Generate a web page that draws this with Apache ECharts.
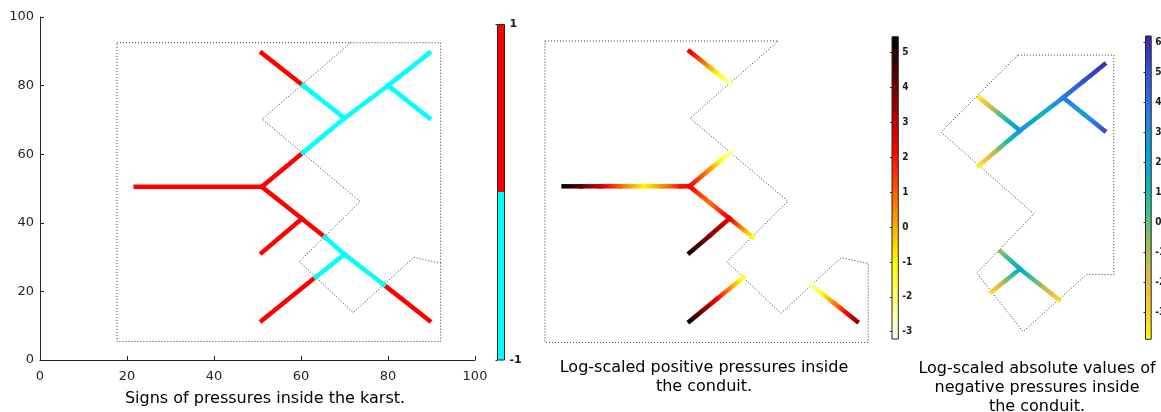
<!DOCTYPE html>
<html><head><meta charset="utf-8">
<script src="https://cdn.jsdelivr.net/npm/echarts@6/dist/echarts.min.js"></script>
<style>html,body{margin:0;padding:0;background:#fff}#c{width:1161px;height:412px}</style>
</head><body><div id="c"></div>
<script>
// ---------------- data ----------------
const axisMin = 0, axisMax = 100, axisStep = 20;
// karst boundary (dotted): left sub-domain, right sub-domain, and the outer north-east edge
const leftBoundary = [[17.7,92.5],[71.4,92.5],[51.1,70.2],[73.6,46.2],[59.6,28.7],[72,13.8],[85.9,29.9],[92.1,28.2],[92.1,5.4],[17.7,5.4],[17.7,92.5]];
const rightBoundary = [[69.5,92.2],[91.7,92.2],[91.7,29.1],[85.5,29.3],[70.7,12.8],[60.0,29.6],[73.2,46.6],[51.7,70.1],[69.5,92.2]];
const outerEdgeNE = [[71.4,92.5],[92.1,92.5],[92.1,28.2]];
// conduit branches with positive pressure: [x, y, log10(p)]
const posBranches = [
  [[22,50.5,5.4],[26,50.5,4.3],[30.5,50.5,2.8],[35,50.5,1.0],[40.5,50.5,-0.9],[44.5,50.5,0.3],[49,50.5,2.0],[51,50.5,2.3]],
  [[51,50.5,2.3],[55.75,55.5,0.3],[60.5,60.5,-2.6]],
  [[51,89.5,2.5],[55.75,84.75,0.0],[60.5,80,-2.8]],
  [[51,50.5,2.3],[55.6,45.8,0.7],[60.2,41.2,2.5]],
  [[60.2,41.2,2.5],[65.5,35.8,-1.2]],
  [[51,31.3,5.2],[55.6,36.2,3.8],[60.2,41.2,2.5]],
  [[51,11.5,5.3],[57.2,17.9,2.3],[63.4,24.2,-1.4]],
  [[79,22,-2.5],[84.25,16.75,0.5],[89.5,11.5,3.8]]
];
// conduit branches with negative pressure: [x, y, log10(|p|)]
const negBranches = [
  [[60.5,80,-3.6],[65.25,75.25,0.0],[70,70.5,3.0]],
  [[60.5,60.5,-3.7],[65.25,65.5,-0.3],[70,70.5,3.0]],
  [[70,70.5,3.0],[75,75.25,1.2],[80,80,3.8]],
  [[80,80,3.8],[84.75,84.75,5.0],[89.5,89.5,5.9]],
  [[80,80,3.8],[84.75,75.25,2.4],[89.5,70.5,5.3]],
  [[65.5,35.8,-0.6],[70,30.8,2.0]],
  [[70,30.8,2.0],[74.5,26.4,-0.5],[79,22,-3.3]],
  [[63.4,24.2,-3.3],[66.7,27.5,-0.6],[70,30.8,1.9]]
];
const signRange = [-1, 1];
const signTicks = [-1, 1];
const posRange = [-3.21, 5.46];
const posTicks = [-3,-2,-1,0,1,2,3,4,5];
const negRange = [-3.89, 6.22];
const negTicks = [-3,-2,-1,0,1,2,3,4,5,6];
const captions = ['Signs of pressures inside the karst.',
  'Log-scaled positive pressures inside\nthe conduit.',
  'Log-scaled absolute values of\nnegative pressures inside\nthe conduit.'];

// ---------------- colormaps ----------------
function hex(r,g,b){return 'rgb('+Math.round(r*255)+','+Math.round(g*255)+','+Math.round(b*255)+')';}
function clamp(t){return Math.max(0,Math.min(1,t));}
function hotAt(f){ // f=0 black ... 1 white
  return hex(clamp(f/0.375), clamp((f-0.375)/0.375), clamp((f-0.75)/0.25));
}
const parulaOff = [0,.12,.22,.32,.42,.52,.62,.71,.81,.91,1];
const parulaCol = ['#3e26a8','#3451d8','#2a72ea','#1b93de','#08aacd','#20b8aa','#62be80','#a6be5b','#e7b942','#fcce2e','#f9fb0e'];
function rgbOf(h){return [parseInt(h.substr(1,2),16),parseInt(h.substr(3,2),16),parseInt(h.substr(5,2),16)];}
function parulaAt(f){
  f = clamp(f);
  for(let i=1;i<parulaOff.length;i++){
    if(f<=parulaOff[i]){
      const t=(f-parulaOff[i-1])/(parulaOff[i]-parulaOff[i-1]);
      const a=rgbOf(parulaCol[i-1]), b=rgbOf(parulaCol[i]);
      return 'rgb('+Math.round(a[0]+(b[0]-a[0])*t)+','+Math.round(a[1]+(b[1]-a[1])*t)+','+Math.round(a[2]+(b[2]-a[2])*t)+')';
    }
  }
  return parulaCol[parulaCol.length-1];
}
const posColor = v => hotAt((posRange[1]-v)/(posRange[1]-posRange[0]));
const negColor = v => parulaAt((negRange[1]-v)/(negRange[1]-negRange[0]));

function toSegments(branches){
  const out=[];
  branches.forEach(b=>{for(let i=0;i<b.length-1;i++){out.push([b[i][0],b[i][1],b[i+1][0],b[i+1][1],b[i][2],b[i+1][2]]);}});
  return out;
}
function toSignItems(branches, s){
  return branches.map(b=>[b[0][0],b[0][1],b[b.length-1][0],b[b.length-1][1],s]);
}

const LW = 4.5;
function gradientSeries(idx, branches, colorFn){
  return {
    type:'custom', xAxisIndex:idx, yAxisIndex:idx, clip:false, silent:true, z:5,
    data: toSegments(branches), encode:{x:[0,2], y:[1,3]},
    renderItem(params, api){
      const p1 = api.coord([api.value(0), api.value(1)]);
      const p2 = api.coord([api.value(2), api.value(3)]);
      const v1 = api.value(4), v2 = api.value(5);
      const stops=[];
      for(let k=0;k<=10;k++){const t=k/10; stops.push({offset:t,color:colorFn(v1+(v2-v1)*t)});}
      return {type:'line', shape:{x1:p1[0],y1:p1[1],x2:p2[0],y2:p2[1]},
        style:{stroke:new echarts.graphic.LinearGradient(p1[0],p1[1],p2[0],p2[1],stops,true), lineWidth:LW, lineCap:'square'}};
    }
  };
}
function signSeries(){
  return {
    type:'custom', xAxisIndex:0, yAxisIndex:0, clip:false, silent:true, z:5,
    data: toSignItems(posBranches,1).concat(toSignItems(negBranches,-1)), encode:{x:[0,2], y:[1,3]},
    renderItem(params, api){
      const p1 = api.coord([api.value(0), api.value(1)]);
      const p2 = api.coord([api.value(2), api.value(3)]);
      return {type:'line', shape:{x1:p1[0],y1:p1[1],x2:p2[0],y2:p2[1]},
        style:{stroke: api.value(4) > 0 ? '#ff0000' : '#00ffff', lineWidth:LW, lineCap:'square'}};
    }
  };
}
function boundarySeries(idx, pts){
  return {type:'line', xAxisIndex:idx, yAxisIndex:idx, data:pts, symbol:'none', showSymbol:false, clip:false, silent:true, z:2,
    lineStyle:{color:'#333', width:1, type:[1,2]}};
}
function colorbarSeries(idx, range, colorFn, hard){
  return {
    type:'custom', xAxisIndex:idx, yAxisIndex:idx, clip:false, silent:true,
    data:[[range[0], range[1]]],
    renderItem(params, api){
      const lo = api.coord([0, api.value(0)]);
      const hi = api.coord([1, api.value(1)]);
      let stops=[];
      if(hard){
        const mid = api.coord([0, 0]);
        const f = (mid[1]-hi[1])/(lo[1]-hi[1]);
        stops=[{offset:0,color:'#ff0000'},{offset:f,color:'#ff0000'},{offset:f,color:'#00ffff'},{offset:1,color:'#00ffff'}];
      } else {
        const v0=api.value(0), v1=api.value(1);
        for(let k=0;k<=40;k++){const t=k/40; stops.push({offset:t,color:colorFn(v1+(v0-v1)*t)});}
      }
      return {type:'rect', shape:{x:lo[0], y:hi[1], width:hi[0]-lo[0], height:lo[1]-hi[1]},
        style:{fill:new echarts.graphic.LinearGradient(0,hi[1],0,lo[1],stops,true), stroke:'#262626', lineWidth:1}};
    }
  };
}

// ---------------- layout ----------------
const AX = '#262626';
const grids = [
  {left:40, top:17, width:435, height:343},           // signs
  {left:468, top:15, width:434.5, height:346.1},      // positive
  {left:717.7, top:27.9, width:431.9, height:348.3},  // negative
  {left:497.5, top:24.5, width:7, height:335.5},      // cb signs
  {left:892, top:36.7, width:6.3, height:302.3},      // cb positive
  {left:1145.5, top:36, width:5.7, height:303.3}      // cb negative
].map(g=>Object.assign({outerBoundsMode:'none', containLabel:false, show:false}, g));

const mainX = {gridIndex:0, type:'value', min:axisMin, max:axisMax, interval:axisStep,
  axisLine:{show:true, lineStyle:{color:AX, width:1}}, axisTick:{show:true, inside:true, length:4, lineStyle:{color:AX}},
  axisLabel:{color:AX, fontSize:13, fontFamily:'DejaVu Sans', margin:10}, splitLine:{show:false}};
const mainY = Object.assign({}, mainX, {axisLabel:{color:AX, fontSize:13, fontFamily:'DejaVu Sans', margin:6}});
const hid = i => ({gridIndex:i, type:'value', min:axisMin, max:axisMax, show:false});
const cbX = i => ({gridIndex:i, type:'value', min:0, max:1, show:false});
const cbY = (i, range, ticks, font, size, margin) => ({gridIndex:i, type:'value', min:range[0], max:range[1], position:'right',
  axisLine:{show:false}, splitLine:{show:false},
  axisTick:{show:true, inside:true, length:2, customValues:ticks, lineStyle:{color:'#262626'}},
  axisLabel:{show:true, customValues:ticks, color:'#1a1a1a', fontWeight:'bold', fontFamily:font, fontSize:size, margin:margin}});

const capFont = '16px "DejaVu Sans"';
const option = {
  animation:false,
  backgroundColor:'#fff',
  grid: grids,
  xAxis:[mainX, hid(1), hid(2), cbX(3), cbX(4), cbX(5)],
  yAxis:[mainY, hid(1), hid(2),
    cbY(3, signRange, signTicks, 'DejaVu Sans', 11, 5),
    cbY(4, posRange, posTicks, "'DejaVu Sans Condensed','Liberation Sans Narrow',sans-serif", 10, 4),
    cbY(5, negRange, negTicks, "'DejaVu Sans Condensed','Liberation Sans Narrow',sans-serif", 10, 4)],
  series:[
    boundarySeries(0, leftBoundary), boundarySeries(0, outerEdgeNE), signSeries(),
    boundarySeries(1, leftBoundary), gradientSeries(1, posBranches, posColor),
    boundarySeries(2, rightBoundary), gradientSeries(2, negBranches, negColor),
    colorbarSeries(3, signRange, null, true),
    colorbarSeries(4, posRange, posColor, false),
    colorbarSeries(5, negRange, negColor, false)
  ],
  graphic:[
    {type:'text', x:265, y:399, style:{text:captions[0], font:capFont, fill:'#000', align:'center', verticalAlign:'middle', textAlign:'center', textVerticalAlign:'middle'}},
    {type:'text', x:704, y:358, style:{text:captions[1], font:capFont, lineHeight:19, fill:'#000', align:'center', verticalAlign:'top', textAlign:'center', textVerticalAlign:'top'}},
    {type:'text', x:1037, y:359, style:{text:captions[2], font:capFont, lineHeight:19, fill:'#000', align:'center', verticalAlign:'top', textAlign:'center', textVerticalAlign:'top'}}
  ]
};
const chart = echarts.init(document.getElementById('c'), null, {renderer:'canvas'});
chart.setOption(option);
</script></body></html>
